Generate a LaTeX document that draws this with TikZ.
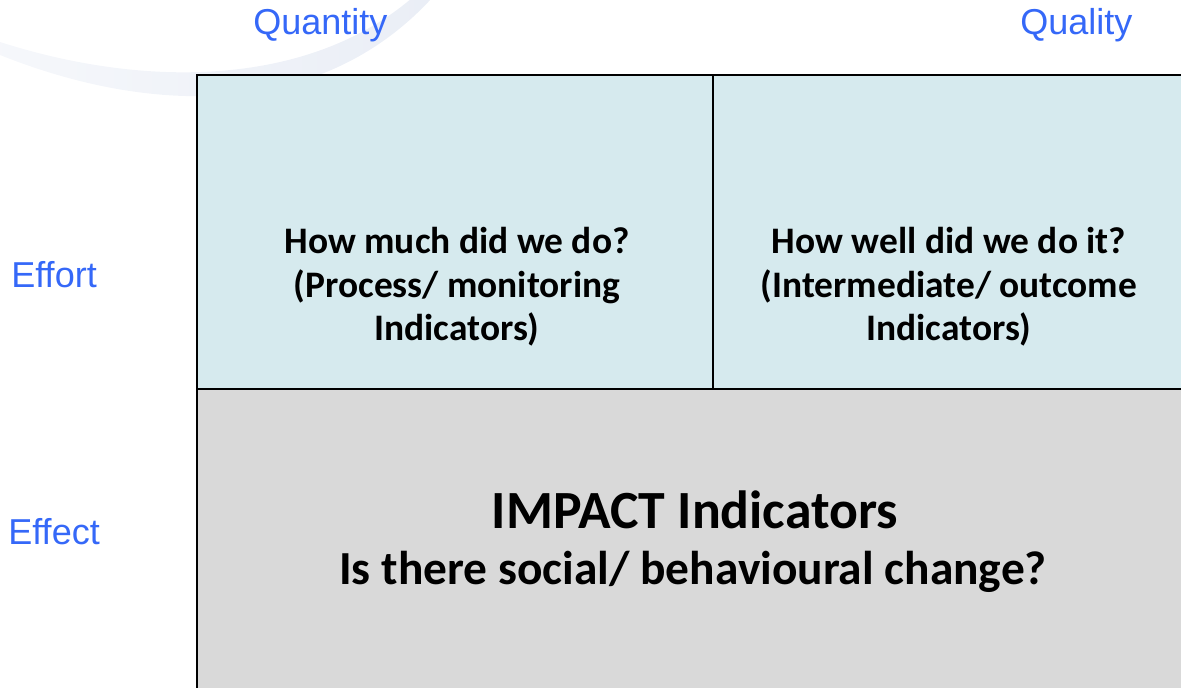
\documentclass[tikz,border=0pt]{standalone}
\usepackage{fontspec}
\setmainfont{Carlito}
\newfontfamily\axisfont{Liberation Sans}
\usetikzlibrary{positioning}
\definecolor{axisblue}{HTML}{3568F8}
\definecolor{cellblue}{HTML}{D6EAEE}
\definecolor{cellgrey}{HTML}{D9D9D9}
\definecolor{swooshgrey}{HTML}{EAEEF6}
\tikzstyle{cell} = [rectangle, draw=black, line width=1.1pt, inner sep=0pt,
    anchor=north west]
\tikzstyle{axis} = [text=axisblue, inner sep=0pt, anchor=base west,
    font=\axisfont\fontsize{20.5}{24}\selectfont]
\tikzstyle{question} = [inner sep=0pt, anchor=base, align=center,
    font=\bfseries\fontsize{21.3}{24.9}\selectfont]

\begin{document}
\begin{tikzpicture}[x=0.02cm, y=-0.02cm]
  \useasboundingbox (0,0) rectangle (1181,688);
  % Background swoosh
  \shade[left color=swooshgrey!45, right color=swooshgrey]
    (0,42) .. controls (150,90) and (310,85) .. (412,-2)
    -- (432,-2) .. controls (320,120) and (150,115) .. (0,55) -- cycle;
  % Place cells
  \node [cell, fill=cellblue, minimum width=10.32cm, minimum height=6.28cm]
    (quantity cell) at (196,74) {};
  \node [cell, fill=cellblue, minimum width=9.7cm, minimum height=6.28cm]
    (quality cell) at (712,74) {};
  \node [cell, fill=cellgrey, minimum width=20cm, minimum height=6cm]
    (impact cell) at (196,388) {};
  % Axis labels
  \node [axis] (quantity) at (253,35) {Quantity};
  \node [axis] (quality) at (1020,35) {Quality};
  \node [axis] (effort) at (11,288) {Effort};
  \node [axis] (effect) at (8,545) {Effect};
  % Cell texts (anchored at the last baseline)
  \node [question] (howmuch) at (457,341)
    {How much did we do?\\(Process/ monitoring\\Indicators)};
  \node [question] (howwell) at (949,341)
    {How well did we do it?\\(Intermediate/ outcome\\Indicators)};
  \node [question, font=\bfseries\fontsize{30.6}{34}\selectfont] (impact)
    at (695,529) {IMPACT Indicators};
  \node [question, font=\bfseries\fontsize{27}{32}\selectfont] (change)
    at (693,585) {Is there social/ behavioural change?};
\end{tikzpicture}
\end{document}
